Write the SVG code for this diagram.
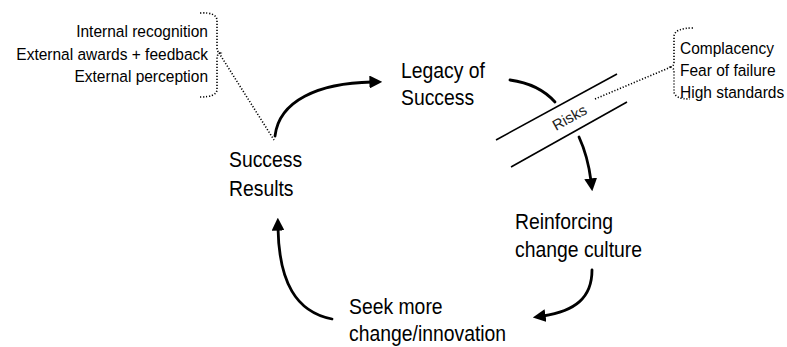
<svg xmlns="http://www.w3.org/2000/svg" width="787" height="347" viewBox="0 0 787 347">
<style>
  text { font-family: "Liberation Sans", Arial, sans-serif; fill: #000; }
  .node { font-size: 22px; }
  .small { font-size: 16.5px; }
  .risk { font-size: 15px; fill: #222; }
  .arrow { fill: none; stroke: #000; stroke-width: 2.8; stroke-linecap: round; }
  .line { fill: none; stroke: #000; stroke-width: 1.6; }
  .dot { fill: none; stroke: #000; stroke-width: 1.6; stroke-dasharray: 1.2 1.8; }
</style>
<defs>
  <marker id="ah" viewBox="0 0 10 10" refX="2" refY="5" markerWidth="4.6" markerHeight="4.6" orient="auto" markerUnits="strokeWidth">
    <path d="M0,0 L10,5 L0,10 Z" fill="#000"/>
  </marker>
</defs>
<rect width="787" height="347" fill="#fff"/>

<g id="connectors">
  <path class="arrow" d="M275,136 C279,101 318,83 372,82" marker-end="url(#ah)"/>
  <path class="arrow" d="M510,80 C532,83 546,92 555,102"/>
  <path class="arrow" d="M579,137 C585,150 589,165 591,181" marker-end="url(#ah)"/>
  <path class="arrow" d="M592,270 C592,298 575,311 543,316" marker-end="url(#ah)"/>
  <path class="arrow" d="M332,319 C296,312 279,282 278,228" marker-end="url(#ah)"/>
  <path class="dot" d="M219,53 L274,140"/>
  <path class="dot" d="M595,99 L671,67"/>
</g>

<g id="risks">
  <line class="line" x1="496" y1="140" x2="617" y2="74"/>
  <line class="line" x1="511" y1="167" x2="627" y2="102"/>
  <text class="risk" transform="translate(572,122) rotate(-29)" text-anchor="middle">Risks</text>
</g>

<g id="recognition">
  <path class="dot" d="M200,13 Q216,12 217,20 L217,47 Q217,52 220,53 Q217,54 217,59 L217,90 Q216,97 200,97"/>
  <text class="small" transform="translate(208,37) scale(0.94,1)" text-anchor="end">Internal recognition</text>
  <text class="small" transform="translate(208,59.5) scale(0.94,1)" text-anchor="end">External awards + feedback</text>
  <text class="small" transform="translate(208,82) scale(0.94,1)" text-anchor="end">External perception</text>
</g>

<g id="risk-list">
  <path class="dot" d="M693,28 Q675,28 674,36 L674,62 Q674,66 671,67 Q674,68 674,72 L674,92 Q675,99 690,99"/>
  <text class="small" transform="translate(680,54) scale(0.94,1)">Complacency</text>
  <text class="small" transform="translate(680,76) scale(0.94,1)">Fear of failure</text>
  <text class="small" transform="translate(680,98) scale(0.94,1)">High standards</text>
</g>

<g id="legacy">
  <text class="node" transform="translate(401,77.5) scale(0.88,1)">Legacy of</text>
  <text class="node" transform="translate(401,105) scale(0.88,1)">Success</text>
</g>

<g id="success-results">
  <text class="node" transform="translate(229,167) scale(0.88,1)">Success</text>
  <text class="node" transform="translate(229,195.5) scale(0.88,1)">Results</text>
</g>

<g id="reinforcing">
  <text class="node" transform="translate(515,228.5) scale(0.88,1)">Reinforcing</text>
  <text class="node" transform="translate(515,256.5) scale(0.88,1)">change culture</text>
</g>

<g id="seek">
  <text class="node" transform="translate(349,314) scale(0.88,1)">Seek more</text>
  <text class="node" transform="translate(349,341) scale(0.88,1)">change/innovation</text>
</g>
</svg>
